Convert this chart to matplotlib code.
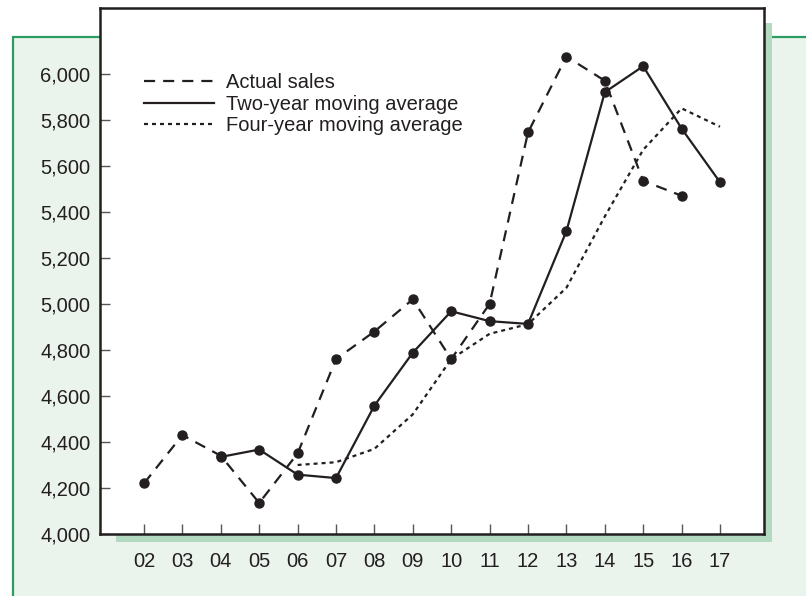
import numpy as np
import matplotlib
matplotlib.use('Agg')
import matplotlib.pyplot as plt
from matplotlib.patches import Rectangle

plt.rcParams['font.family'] = ['Liberation Sans', 'DejaVu Sans']

# sales data, years 2002-2017
years = [2, 3, 4, 5, 6, 7, 8, 9, 10, 11, 12, 13, 14, 15, 16, 17]
year_labels = ['02', '03', '04', '05', '06', '07', '08', '09',
               '10', '11', '12', '13', '14', '15', '16', '17']

sales_years = [2, 3, 4, 5, 6, 7, 8, 9, 10, 11, 12, 13, 14, 15, 16]
actual_sales = [4220, 4430, 4340, 4135, 4350, 4760, 4880, 5020,
                4760, 5000, 5745, 6075, 5970, 5535, 5470]

ma2_years = [4, 5, 6, 7, 8, 9, 10, 11, 12, 13, 14, 15, 16, 17]
ma2 = [4335, 4367, 4258, 4243, 4558, 4788, 4968, 4925,
       4913, 5316, 5920, 6033, 5762, 5529]

ma4_years = [6, 7, 8, 9, 10, 11, 12, 13, 14, 15, 16, 17]
ma4 = [4300, 4312, 4370, 4520, 4760, 4870, 4912, 5070,
       5380, 5670, 5850, 5770]

y_ticks = [4000, 4200, 4400, 4600, 4800, 5000, 5200, 5400, 5600, 5800, 6000]
y_tick_labels = ['4,000', '4,200', '4,400', '4,600', '4,800', '5,000',
                 '5,200', '5,400', '5,600', '5,800', '6,000']

ink = '#231f20'
W, H = 806, 596

fig = plt.figure(figsize=(W / 100, H / 100), dpi=100)
fig.patch.set_facecolor('white')

# green panel behind everything
panel = Rectangle((12.5 / W, -0.1), 1.2, 1 - 36.5 / H + 0.1,
                  transform=fig.transFigure, facecolor='#ebf3ed',
                  edgecolor='#2d9c64', linewidth=1.6, zorder=-3)
fig.patches.append(panel)

# drop shadow of the plot box
shadow = Rectangle((116 / W, 1 - 542 / H), (772 - 116) / W, (542 - 23) / H,
                   transform=fig.transFigure, facecolor='#b3d9c0',
                   edgecolor='none', zorder=-2)
fig.patches.append(shadow)

ax = fig.add_axes([100 / W, 1 - 534 / H, (764 - 100) / W, (534 - 8) / H])
ax.set_facecolor('white')

ax.plot(sales_years, actual_sales, color=ink, lw=1.6, linestyle=(0, (5, 3.6)),
        marker='o', markersize=6.5, label='Actual sales')
ax.plot(ma2_years, ma2, color=ink, lw=1.6, linestyle='-',
        marker='o', markersize=6.5, label='Two-year moving average')
ax.plot(ma4_years, ma4, color=ink, lw=1.6, linestyle=(0, (1.8, 1.8)),
        label='Four-year moving average')

ax.set_xlim(0.854, 18.146)
ax.set_ylim(4000, 6286)
ax.set_xticks(years)
ax.set_xticklabels(year_labels)
ax.set_yticks(y_ticks)
ax.set_yticklabels(y_tick_labels)

ax.tick_params(axis='both', direction='in', length=7, width=1,
               color='#555555', labelsize=14.5, labelcolor=ink)
ax.tick_params(axis='x', pad=13)
ax.tick_params(axis='y', pad=7)
for sp in ax.spines.values():
    sp.set_color(ink)
    sp.set_linewidth(1.8)

# legend, no frame, top left
leg = ax.legend(loc='upper left', bbox_to_anchor=(0.066, 0.876),
                frameon=False, fontsize=14.5, handlelength=3.5,
                handletextpad=0.6, labelspacing=0.12, borderpad=0,
                borderaxespad=0, markerscale=0)
for t in leg.get_texts():
    t.set_color(ink)
for h in leg.legend_handles:
    h.set_marker('')

fig.savefig('out.png', dpi=100)
